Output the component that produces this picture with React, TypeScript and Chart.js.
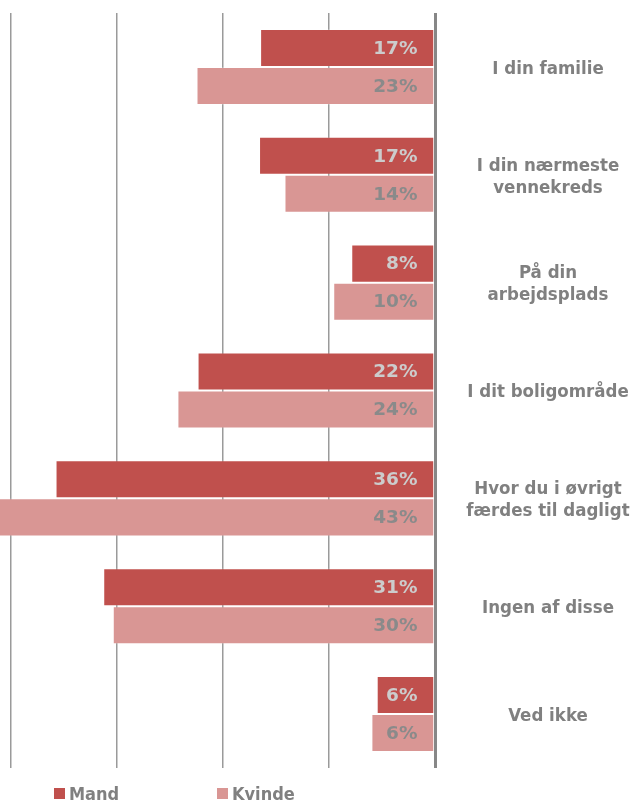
import React, { useEffect, useRef } from "react";
import { Chart, registerables } from "chart.js";

Chart.register(...registerables);

const categories: (string | string[])[] = [
  "I din familie",
  ["I din nærmeste", "vennekreds"],
  ["På din", "arbejdsplads"],
  "I dit boligområde",
  ["Hvor du i øvrigt", "færdes til dagligt"],
  "Ingen af disse",
  "Ved ikke",
];
const mandValues = [16.5, 16.6, 7.9, 22.4, 35.8, 31.3, 5.5];
const kvindeValues = [22.5, 14.2, 9.6, 24.3, 43, 30.4, 6.0];
const seriesNames = ["Mand", "Kvinde"];
const gridTicks = [0, 10, 20, 30, 40];

const MAND_COLOR = "#C0504D";
const KVINDE_COLOR = "#D99694";
const TEXT_GRAY = "#808080";

const labelsPlugin = {
  id: "customLabels",
  afterDatasetsDraw(chart: any) {
    const ctx = chart.ctx;
    const area = chart.chartArea;
    ctx.save();
    // value labels
    chart.data.datasets.forEach((ds: any, di: number) => {
      const meta = chart.getDatasetMeta(di);
      ctx.font = "bold 18.5px 'DejaVu Sans'";
      ctx.fillStyle = di === 0 ? "#CCCCCC" : "#8A8A8A";
      ctx.textAlign = "right";
      ctx.textBaseline = "middle";
      meta.data.forEach((el: any, i: number) => {
        const v = ds.data[i];
        ctx.fillText(Math.round(v) + "%", el.base - 16, el.y + 1);
      });
    });
    // category labels
    const yScale = chart.scales.y;
    ctx.font = "bold 18.5px 'DejaVu Sans Condensed'";
    ctx.fillStyle = TEXT_GRAY;
    ctx.textAlign = "center";
    ctx.textBaseline = "middle";
    const cx = area.right + 113;
    categories.forEach((c, i) => {
      const lines = Array.isArray(c) ? c : [c];
      const y0 = yScale.getPixelForValue(i) + 2;
      const lh = 22;
      lines.forEach((ln, li) => {
        const y = y0 + (li - (lines.length - 1) / 2) * lh;
        ctx.fillText(ln, cx, y);
      });
    });
    // legend
    const items = [
      { x: 54, color: MAND_COLOR, text: seriesNames[0] },
      { x: 217, color: KVINDE_COLOR, text: seriesNames[1] },
    ];
    ctx.font = "bold 18px 'DejaVu Sans Condensed'";
    ctx.textAlign = "left";
    ctx.textBaseline = "alphabetic";
    items.forEach((it) => {
      ctx.fillStyle = it.color;
      ctx.fillRect(it.x, 788, 11, 11);
      ctx.fillStyle = TEXT_GRAY;
      ctx.fillText(it.text, it.x + 15, 800);
    });
    ctx.restore();
  },
};

export default function App() {
  const ref = useRef<HTMLCanvasElement | null>(null);
  useEffect(() => {
    document.body.style.margin = "0";
    if (!ref.current) return;
    const chart = new Chart(ref.current, {
      type: "bar",
      data: {
        labels: categories.map((c) => (Array.isArray(c) ? c.join(" ") : c)),
        datasets: [
          {
            label: seriesNames[0],
            data: mandValues,
            backgroundColor: MAND_COLOR,
            borderColor: "rgba(255,255,255,0.2)",
            borderWidth: 1,
            categoryPercentage: 0.705,
            barPercentage: 1.0,
          },
          {
            label: seriesNames[1],
            data: kvindeValues,
            backgroundColor: KVINDE_COLOR,
            borderColor: "rgba(255,255,255,0.2)",
            borderWidth: 1,
            categoryPercentage: 0.705,
            barPercentage: 1.0,
          },
        ],
      },
      options: {
        indexAxis: "y",
        animation: false,
        responsive: false,
        devicePixelRatio: 1,
        layout: { padding: { left: 0, right: 196, top: 13, bottom: 34 } },
        plugins: {
          legend: { display: false },
          tooltip: { enabled: false },
          title: { display: false },
        },
        scales: {
          x: {
            type: "linear",
            reverse: true,
            min: 0,
            max: 41.04,
            afterBuildTicks: (scale: any) => {
              scale.ticks = gridTicks.map((v) => ({ value: v }));
            },
            afterFit: (scale: any) => {
              scale.height = 0;
            },
            ticks: { display: false },
            border: { display: false },
            grid: {
              drawTicks: false,
              color: (c: any) => (c.tick && c.tick.value === 0 ? "#878787" : "#9A9A9A"),
              lineWidth: (c: any) => (c.tick && c.tick.value === 0 ? 3 : 1.5),
            },
          },
          y: {
            display: false,
          },
        },
      },
      plugins: [labelsPlugin],
    });
    return () => chart.destroy();
  }, []);
  return (
    <div style={{ position: "fixed", left: 0, top: 0, width: 631, height: 802, background: "#fff" }}>
      <canvas ref={ref} width={631} height={802} style={{ width: 631, height: 802, display: "block" }} />
    </div>
  );
}
